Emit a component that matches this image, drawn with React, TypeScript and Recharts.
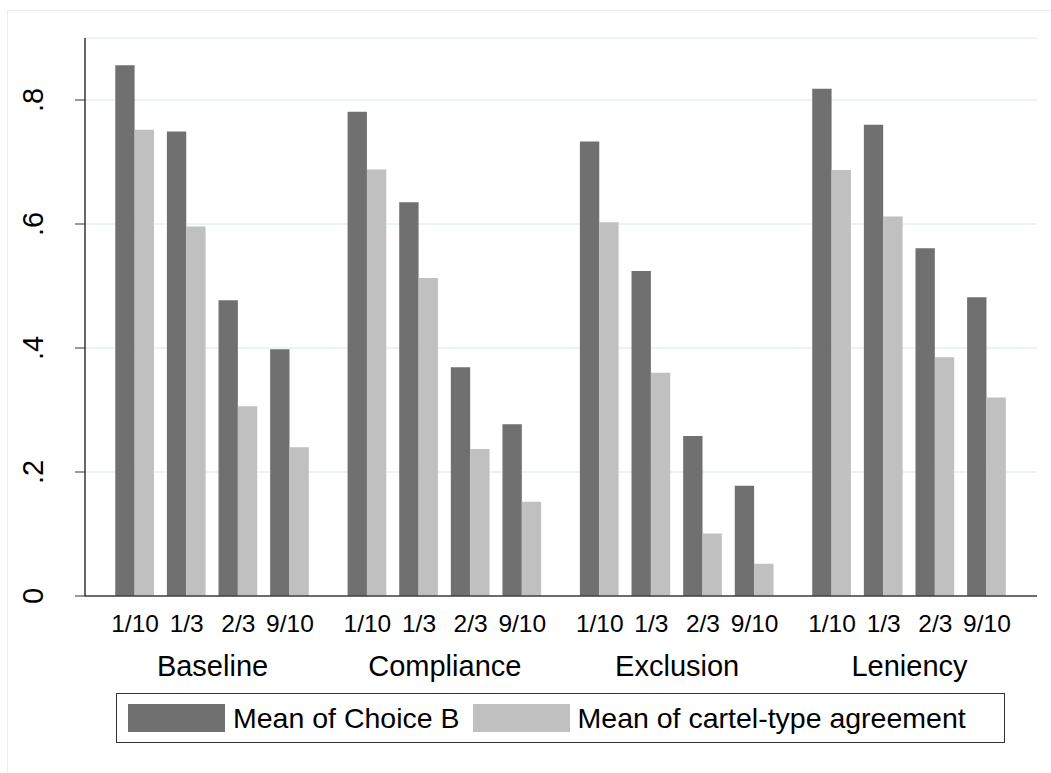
import { BarChart, Bar, XAxis, YAxis, CartesianGrid } from "recharts";

const FONT = '"Liberation Sans", Arial, sans-serif';
const DARK = "#707070";
const LIGHT = "#c0c0c0";

const groups = ["Baseline", "Compliance", "Exclusion", "Leniency"];
const thresholds = ["1/10", "1/3", "2/3", "9/10"];

// one value per threshold, groups in order above
const meanChoiceB = [
  0.856, 0.749, 0.477, 0.398,
  0.781, 0.635, 0.369, 0.277,
  0.733, 0.524, 0.258, 0.178,
  0.818, 0.76, 0.561, 0.482,
];
const meanCartel = [
  0.752, 0.596, 0.306, 0.24,
  0.688, 0.513, 0.237, 0.152,
  0.603, 0.36, 0.101, 0.052,
  0.687, 0.612, 0.385, 0.32,
];

const yTicks = [0, 0.2, 0.4, 0.6, 0.8];

// each group takes 4 bar slots plus half a slot of gap
const GROUP_STEP = 4.5;

const data = groups.flatMap((g, gi) =>
  thresholds.map((t, ti) => ({
    pos: gi * GROUP_STEP + ti,
    group: g,
    threshold: t,
    choiceB: meanChoiceB[gi * thresholds.length + ti],
    cartel: meanCartel[gi * thresholds.length + ti],
  }))
);
const barTicks = data.map((d) => d.pos);
const groupTicks = groups.map((_, gi) => gi * GROUP_STEP + (thresholds.length - 1) / 2);

const thresholdLabel = (v: number) => data.find((d) => Math.abs(d.pos - v) < 1e-6)?.threshold ?? "";
const groupLabel = (v: number) => groups[Math.round((v - 1.5) / GROUP_STEP)] ?? "";
const yLabel = (v: number) => (v === 0 ? "0" : String(Math.round(v * 10) / 10).replace(/^0/, ""));

const ThresholdTick = ({ x, y, payload }: any) => (
  <text x={x} y={y + 36} textAnchor="middle" fontSize={24.5} fill="#000" fontFamily={FONT}>
    {thresholdLabel(payload.value)}
  </text>
);

const GroupTick = ({ x, y, payload }: any) => (
  <text x={x} y={y + 40} textAnchor="middle" fontSize={29} fill="#000" fontFamily={FONT}>
    {groupLabel(payload.value)}
  </text>
);

const YTick = ({ x, y, payload }: any) => {
  const tx = x - 30;
  return (
    <text
      x={tx}
      y={y}
      transform={`rotate(-90 ${tx} ${y})`}
      textAnchor="middle"
      fontSize={29}
      fill="#000"
      fontFamily={FONT}
    >
      {yLabel(payload.value)}
    </text>
  );
};

const LegendItem = ({ color, label, gapAfter }: { color: string; label: string; gapAfter: number }) => (
  <div style={{ display: "flex", alignItems: "center", marginRight: gapAfter }}>
    <div style={{ width: 97, height: 28, background: color, marginRight: 8 }} />
    <span style={{ fontSize: 28.5, color: "#000", whiteSpace: "nowrap" }}>{label}</span>
  </div>
);

export default function App() {
  return (
    <div style={{ position: "absolute", left: 0, top: 0, width: 1051, height: 773, background: "#fff", fontFamily: FONT }}>
      <div
        style={{
          position: "absolute",
          left: 7,
          top: 10,
          width: 1044,
          height: 763,
          borderLeft: "1px solid #eeeeee",
          borderTop: "1px solid #eeeeee",
          boxSizing: "border-box",
        }}
      />
      <div style={{ position: "absolute", left: 0, top: 0 }}>
        <BarChart
          width={1051}
          height={773}
          data={data}
          margin={{ top: 38, right: 14, left: 0, bottom: 87 }}
          barGap={0}
        >
          <CartesianGrid vertical={false} stroke="#e6eff1" strokeWidth={1.5} />
          <XAxis
            xAxisId="bars"
            type="number"
            dataKey="pos"
            domain={[-0.97, 17.47]}
            allowDataOverflow
            ticks={barTicks}
            interval={0}
            height={40}
            tickSize={0}
            tickMargin={0}
            tickLine={false}
            axisLine={{ stroke: "#404040", strokeWidth: 1.5 }}
            tick={<ThresholdTick />}
          />
          <XAxis
            xAxisId="groups"
            type="number"
            dataKey="pos"
            domain={[-0.97, 17.47]}
            allowDataOverflow
            ticks={groupTicks}
            interval={0}
            height={50}
            tickSize={0}
            tickMargin={0}
            tickLine={false}
            axisLine={false}
            tick={<GroupTick />}
          />
          <YAxis
            type="number"
            domain={[0, 0.9]}
            ticks={yTicks}
            interval={0}
            width={85}
            tickSize={10}
            tickMargin={2}
            axisLine={{ stroke: "#000", strokeWidth: 1.2 }}
            tickLine={{ stroke: "#333" }}
            tick={<YTick />}
          />
          <Bar xAxisId="bars" dataKey="choiceB" name="Mean of Choice B" fill={DARK} barSize={19.35} isAnimationActive={false} />
          <Bar xAxisId="bars" dataKey="cartel" name="Mean of cartel-type agreement" fill={LIGHT} barSize={19.35} isAnimationActive={false} />
        </BarChart>
      </div>
      <div
        style={{
          position: "absolute",
          left: 116,
          top: 693,
          width: 889,
          height: 50,
          border: "1.5px solid #333",
          boxSizing: "border-box",
          display: "flex",
          alignItems: "center",
          paddingLeft: 11,
        }}
      >
        <LegendItem color={DARK} label="Mean of Choice B" gapAfter={13} />
        <LegendItem color={LIGHT} label="Mean of cartel-type agreement" gapAfter={0} />
      </div>
    </div>
  );
}
